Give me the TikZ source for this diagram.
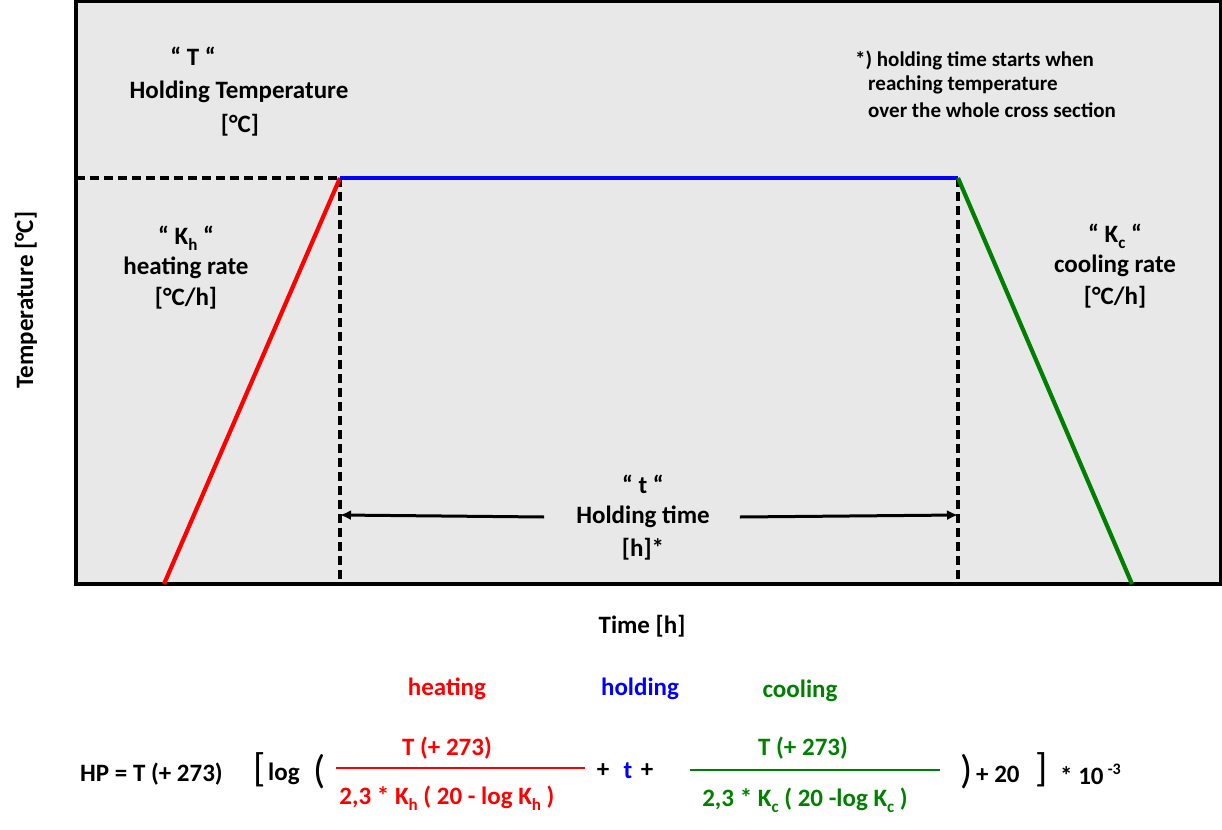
\documentclass[tikz,border=0pt]{standalone}
\usepackage{fontspec}
\setmainfont{Carlito}
\usetikzlibrary{arrows.meta}
\definecolor{myred}{RGB}{255,0,0}
\definecolor{myblue}{RGB}{0,0,255}
\definecolor{mygreen}{RGB}{0,128,0}
\definecolor{plotbg}{RGB}{232,232,232}
\newcommand\mysub[1]{\raisebox{-6pt}{\fontsize{17}{17}\selectfont #1}}
\begin{document}
\begin{tikzpicture}[x=1pt,y=-1pt,
  lbl/.style={font=\fontsize{25}{29}\selectfont\bfseries, inner sep=0pt, align=center},
  note/.style={font=\fontsize{21}{25}\selectfont\bfseries, inner sep=0pt, anchor=west},
  eq/.style={font=\fontsize{25}{29}\selectfont\bfseries, inner sep=0pt},
  big/.style={font=\fontsize{40}{40}\selectfont, inner sep=0pt},
  guide/.style={line width=3.2pt, dash pattern=on 9pt off 5pt},
  curve/.style={line width=4.2pt},
  arr/.style={line width=3pt, -{Latex[length=11pt,width=10pt]}}]
\useasboundingbox (0,0) rectangle (1222,829);
% plot area
\draw[line width=3.4pt, fill=plotbg] (76,1.7) rectangle (1220.3,584);
% key points
\coordinate (base0) at (76,178);
\coordinate (hs) at (340,178);
\coordinate (he) at (958,178);
\coordinate (r0) at (164,584);
\coordinate (g1) at (1132,584);
\coordinate (hsb) at (340,584);
\coordinate (heb) at (958,584);
\coordinate (al) at (340,515);
\coordinate (ar) at (958,515);
% dashed guides
\draw[guide] (base0) -- (hs);
\draw[guide] (hs) -- (hsb);
\draw[guide] (he) -- (heb);
% curve
\draw[curve, myred] (r0) -- (hs);
\draw[curve, myblue] (hs) -- (he);
\draw[curve, mygreen] (he) -- (g1);
% labels
\node[lbl] (tq) at (193,56) {“ T “};
\node[lbl] (tht) at (239,92) {Holding Temperature};
\node[lbl] (tu) at (240,125) {[°C]};
\node[lbl] (kh) at (186,238) {“ K\mysub{h} “};
\node[lbl] (hr) at (186,268) {heating rate};
\node[lbl] (hru) at (186,298) {[°C/h]};
\node[lbl] (kc) at (1115,236) {“ K\mysub{c} “};
\node[lbl] (cr) at (1115,266) {cooling rate};
\node[lbl] (cru) at (1115,297) {[°C/h]};
\node[note] (n1) at (855,60) {*) holding time starts when};
\node[note] (n2) at (868,85) {reaching temperature};
\node[note] (n3) at (868,110) {over the whole cross section};
\node[lbl] (tt) at (643,484) {“ t “};
\node[lbl] (ht) at (643,517) {Holding time};
\node[lbl] (hu) at (643,549) {[h]*};
\draw[arr] ([xshift=-32pt]ht.west) -- (al);
\draw[arr] ([xshift=30pt]ht.east) -- (ar);
\node[lbl, rotate=90] (yl) at (26,300) {Temperature [°C]};
\node[lbl] (xl) at (642,626) {Time [h]};
% formula
\node[eq, myred] (heat) at (447,689) {heating};
\node[eq, myblue] (hold) at (640,689) {holding};
\node[eq, mygreen] (cool) at (800,691) {cooling};
\node[eq, anchor=west] (hp) at (80,774) {HP = T (+ 273)};
\node[big, anchor=west] (lb) at (253,770) {[};
\node[eq, anchor=west] (lg) at (268,774) {log};
\node[big, anchor=west] (lp) at (313,772) {(};
\node[eq, myred] (rn) at (447,748) {T (+ 273)};
\draw[myred, line width=1.9pt] (336,768) -- (585,768);
\node[eq, myred] (rd) at (447,798) {2,3 * K\mysub{h} ( 20 - log K\mysub{h} )};
\node[eq] (p1) at (603,771) {+};
\node[eq, myblue] (tv) at (628,771) {t};
\node[eq] (p2) at (647,771) {+};
\node[eq, mygreen] (gn) at (803,748) {T (+ 273)};
\draw[mygreen, line width=1.9pt] (690,770) -- (940,770);
\node[eq, mygreen] (gd) at (805,800) {2,3 * K\mysub{c} ( 20 -log K\mysub{c} )};
\node[big, anchor=west] (rp) at (960,772) {)};
\node[eq, anchor=west] (p20) at (976,774) {+ 20};
\node[big, anchor=west] (rb) at (1035,770) {]};
\node[eq, anchor=west] (ex) at (1060,774) {* 10\,\raisebox{10pt}{\fontsize{16}{16}\selectfont -3}};
\end{tikzpicture}
\end{document}
